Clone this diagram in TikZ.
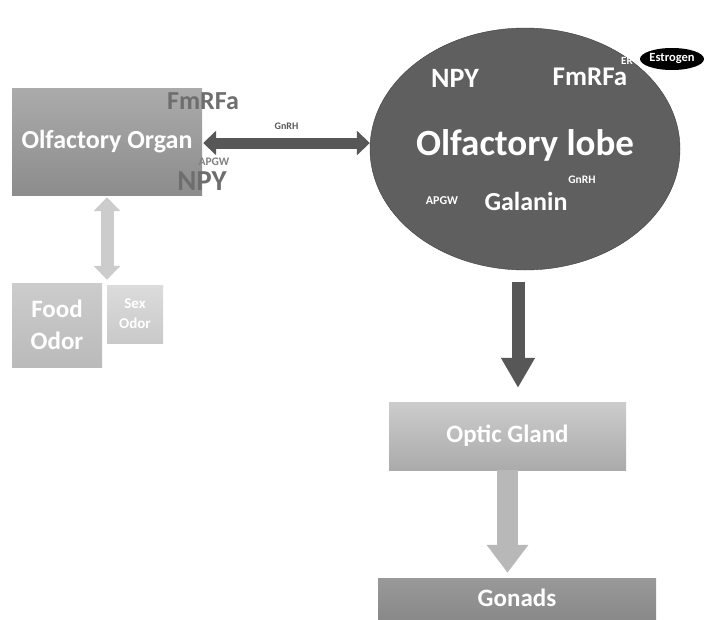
\documentclass[tikz,border=0pt]{standalone}
\usepackage{fontspec}
\setmainfont{Carlito}
\usetikzlibrary{shapes.geometric,arrows.meta,calc}
\definecolor{lobegray}{HTML}{5F5F5F}
\definecolor{arrowdark}{HTML}{575757}
\definecolor{labelgray}{HTML}{6E6E6E}
\begin{document}
\begin{tikzpicture}[x=1pt,y=-1pt,
  fsize/.style={font=\fontsize{#1}{#1}\selectfont\bfseries},
  box/.style={rectangle, inner sep=0pt, text=white, align=center},
  wlabel/.style={text=white, inner sep=0pt},
  glabel/.style={text=labelgray, inner sep=0pt}
]
\useasboundingbox (0,0) rectangle (709,619);

% boxes
\node[box, fsize=26, minimum width=190, minimum height=107,
      top color=black!33, bottom color=black!45] (organ) at (107,141.5) {Olfactory Organ};
\node[box, fsize=25, minimum width=90, minimum height=84,
      top color=black!20, bottom color=black!27] (food) at (57,325) {Food\\[7pt]Odor};
\node[box, fsize=15, minimum width=56, minimum height=58,
      top color=black!14, bottom color=black!21] (sex) at (135,314) {Sex\\[5pt]Odor};
\node[box, fsize=25, minimum width=237, minimum height=68,
      top color=black!20, bottom color=black!33] (optic) at (507.5,436) {Optic Gland};
\node[box, fsize=25, minimum width=278, minimum height=52,
      top color=black!40, bottom color=black!48, text depth=12pt] (gonads) at (517,604) {Gonads};

% olfactory lobe
\node[ellipse, fill=lobegray, draw=black!75, minimum width=310, minimum height=242,
      inner sep=0pt] (lobe) at (525,149) {};
\node[wlabel, fsize=37] (lobetitle) at (525,145) {Olfactory lobe};
\node[wlabel, fsize=28] (lnpy) at (455,78) {NPY};
\node[wlabel, fsize=27] (lfmrfa) at (590,77) {FmRFa};
\node[wlabel, fsize=11] (ler) at (627,61) {ER};
\node[ellipse, fill=black, minimum width=64, minimum height=22, inner sep=0pt,
      text=white, fsize=12.5] (estrogen) at (672,59) {Estrogen};
\node[wlabel, fsize=26] (galanin) at (526,201) {Galanin};
\node[wlabel, fsize=11.5] (lgnrh) at (582,180) {GnRH};
\node[wlabel, fsize=12] (lapgw) at (442,201) {APGW};

% labels beside the olfactory organ
\node[glabel, fsize=26] (ofmrfa) at (203,101) {FmRFa};
\node[glabel, fsize=11.5, text=black!50] (oapgw) at (214,162) {APGW};
\node[glabel, fsize=29] (onpy) at (202,181) {NPY};

% connectors
\coordinate (gl) at ($(organ.east)+(1,1.5)$);
\coordinate (gr) at (gl -| lobe.west);
\draw[arrowdark, line width=11pt,
      {Triangle[length=13pt,width=24pt]}-{Triangle[length=13pt,width=24pt]}]
      (gl) -- (gr) node[midway, above=8pt, text=arrowdark, fsize=10, inner sep=0pt] {GnRH};

\coordinate (dtop) at ($(lobe.south)+(-7,12)$);
\coordinate (dbot) at (dtop |- optic.north);
\draw[arrowdark, line width=13pt, -{Triangle[length=30pt,width=32pt]}]
      (dtop) -- ($(dbot)+(0,-14)$);

\coordinate (otop) at (optic.south);
\draw[black!28, line width=21pt, -{Triangle[length=28pt,width=40pt]}]
      (otop) -- ($(otop |- gonads.north)+(0,-5)$);

\coordinate (vtop) at ($(organ.south)+(0,2)$);
\coordinate (vbot) at (vtop |- food.north);
\draw[black!20, line width=13pt,
      {Triangle[length=14pt,width=26pt]}-{Triangle[length=14pt,width=26pt]}]
      (vtop) -- ($(vbot)+(0,-3)$);
\end{tikzpicture}
\end{document}
